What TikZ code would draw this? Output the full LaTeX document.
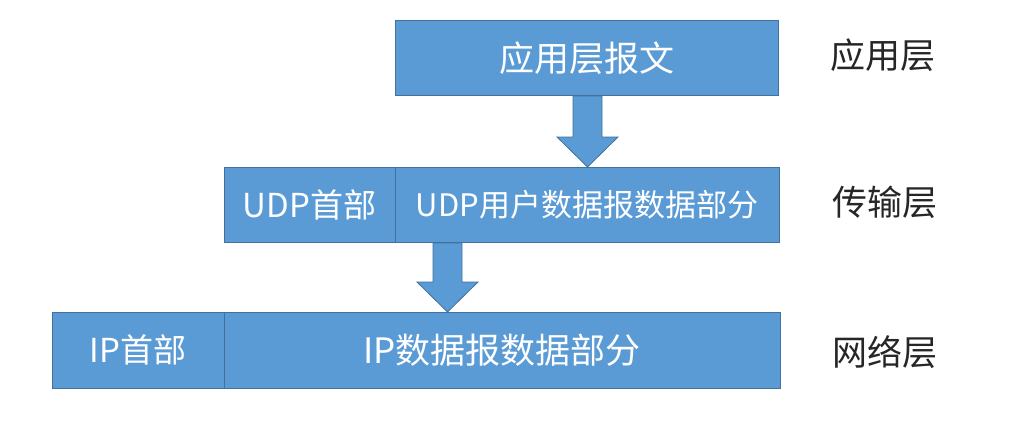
\documentclass[tikz,border=0pt]{standalone}
\usepackage{fontspec}
\newfontfamily\cjk{Noto Sans CJK SC}
\usetikzlibrary{calc}
\definecolor{boxblue}{HTML}{5B9BD5}
\definecolor{boxline}{HTML}{41719C}
\definecolor{labelgray}{HTML}{262626}
\newcommand{\cjksize}[1]{\cjk\fontsize{#1}{#1}\selectfont}

\begin{document}
\begin{tikzpicture}[x=1pt,y=-1pt,
    box/.style={rectangle,draw=boxline,fill=boxblue,line width=0.8pt,
                text=white,font=\cjksize{33},
                minimum height=75pt,inner sep=0pt},
    layer/.style={text=labelgray,font=\cjksize{35}},
    blockarrow/.style={draw=boxline,fill=boxblue,line width=0.8pt}]
\useasboundingbox[fill=white] (0,0) rectangle (1027,440);
%%%%% rows
\node[box,minimum width=383pt,font=\cjksize{35}] (app) at (586.5,58) {应用层报文};
\node[box,minimum width=171pt] (udph) at (309.5,204.5) {UDP首部};
\node[box,minimum width=384pt,font=\cjksize{31}] (udpd) at (587,204.5) {UDP用户数据报数据部分};
\node[box,minimum width=172pt,minimum height=76pt] (iph) at (138,350) {IP首部};
\node[box,minimum width=556pt,minimum height=76pt,font=\cjksize{35}] (ipd) at (502,350) {IP数据报数据部分};
%%%%% layer names
\node[layer] (lapp) at (883,55) {应用层};
\node[layer] (ludp) at (885,202) {传输层};
\node[layer] (lip) at (885,352) {网络层};
%%%%% arrows
\coordinate (a1top) at (587.5,96);
\coordinate (a1tip) at (587.5,167);
\coordinate (a2top) at (447.5,243);
\coordinate (a2tip) at (447.5,312);
\draw[blockarrow] ($(a1top)+(-14.5,0)$) -- ++(0,41) -- ++(-16,0) -- (a1tip)
    -- ++(30.5,-30) -- ++(-16,0) -- ++(0,-41) -- cycle;
\draw[blockarrow] ($(a2top)+(-14.5,0)$) -- ++(0,39) -- ++(-16,0) -- (a2tip)
    -- ++(30.5,-30) -- ++(-16,0) -- ++(0,-39) -- cycle;
\end{tikzpicture}
\end{document}
